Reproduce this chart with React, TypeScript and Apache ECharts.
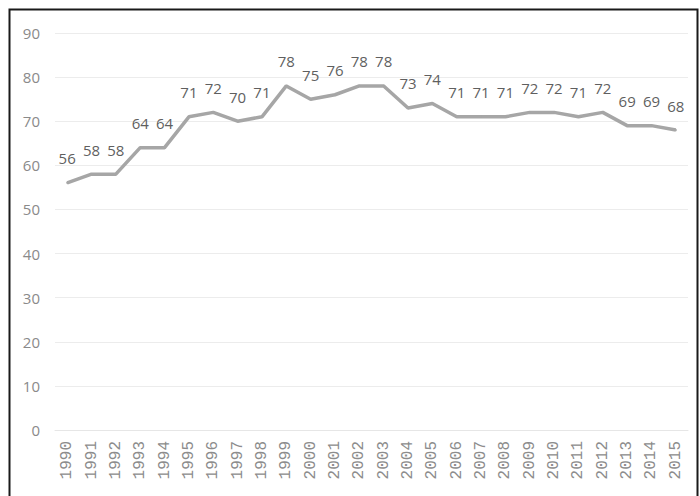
import React, { useEffect, useRef } from "react";
import * as echarts from "echarts";

const years = [
  "1990", "1991", "1992", "1993", "1994", "1995", "1996", "1997", "1998", "1999",
  "2000", "2001", "2002", "2003", "2004", "2005", "2006", "2007", "2008", "2009",
  "2010", "2011", "2012", "2013", "2014", "2015",
];
const values = [
  56, 58, 58, 64, 64, 71, 72, 70, 71, 78,
  75, 76, 78, 78, 73, 74, 71, 71, 71, 72,
  72, 71, 72, 69, 69, 68,
];
const yMin = 0;
const yMax = 90;
const yStep = 10;

export default function App() {
  const ref = useRef<HTMLDivElement>(null);
  useEffect(() => {
    if (!ref.current) return;
    const chart = echarts.init(ref.current, null, { renderer: "svg" });
    chart.setOption({
      animation: false,
      backgroundColor: "#ffffff",
      textStyle: { fontFamily: "Open Sans" },
      grid: { left: 55, right: 12, top: 33, bottom: 66, containLabel: false },
      graphic: [
        {
          type: "rect",
          shape: { x: 9.5, y: 9.5, width: 688, height: 600 },
          style: { fill: "none", stroke: "#1a1a1a", lineWidth: 2 },
          silent: true,
          z: 100,
        },
      ],
      xAxis: {
        type: "category",
        data: years,
        boundaryGap: true,
        axisLine: { show: true, lineStyle: { color: "#e6e6e6", width: 1 } },
        axisTick: { show: false },
        axisLabel: {
          rotate: 90,
          color: "#8c8c8c",
          fontSize: 16,
          fontFamily: "Liberation Mono",
          margin: 11,
          interval: 0,
        },
      },
      yAxis: {
        type: "value",
        min: yMin,
        max: yMax,
        interval: yStep,
        axisLine: { show: false },
        axisTick: { show: false },
        axisLabel: { color: "#8a8a8a", fontSize: 15, margin: 15 },
        splitLine: { lineStyle: { color: "#ececec", width: 1 } },
      },
      series: [
        {
          type: "line",
          data: values,
          symbol: "circle",
          symbolSize: 2,
          showSymbol: true,
          itemStyle: { color: "#a6a6a6" },
          lineStyle: { color: "#a6a6a6", width: 3.5 },
          label: {
            show: true,
            position: "top",
            distance: 16,
            color: "#5f5f5f",
            fontSize: 15,
          },
          labelLayout: { hideOverlap: false },
        },
      ],
    });
    return () => chart.dispose();
  }, []);
  return (
    <div
      ref={ref}
      style={{ position: "fixed", left: 0, top: 0, width: 700, height: 496 }}
    />
  );
}
